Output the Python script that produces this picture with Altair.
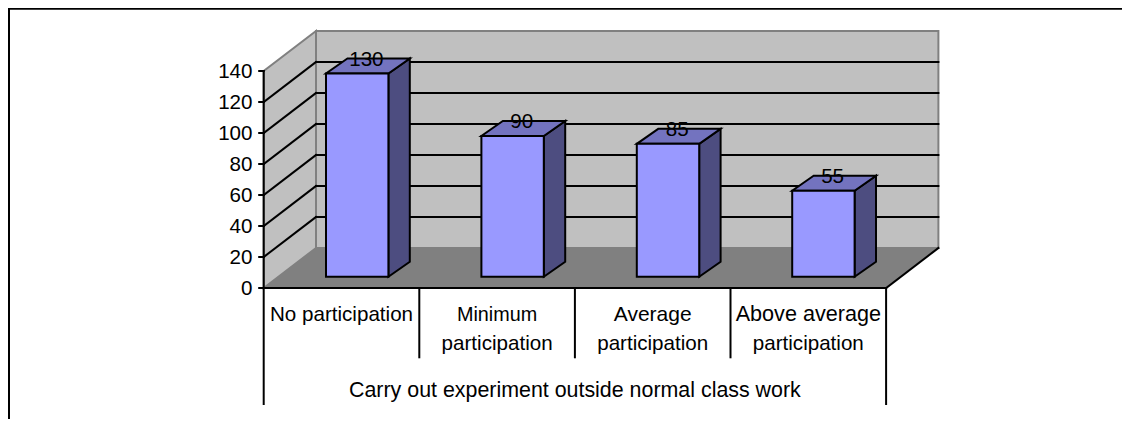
import altair as alt
import pandas as pd

# --- chart content
categories = ["No participation", "Minimum participation", "Average participation", "Above average participation"]
category_lines = [["No participation"], ["Minimum", "participation"], ["Average", "participation"], ["Above average", "participation"]]
values = [130, 90, 85, 55]
axis_ticks = [0, 20, 40, 60, 80, 100, 120, 140]
group_title = "Carry out experiment outside normal class work"

# --- colours
WALL, FLOOR, EDGE = "#C0C0C0", "#808080", "#808080"
FRONT, SIDE, TOP = "#9999FF", "#4D4D80", "#7373BF"
FONT = "Liberation Sans"
TEXT_SIZE = 20.6
LINE_SIZES = {"Minimum": 19.8, "Above average": 21.6, "Average": 21.0, group_title: 21.4}
LW = 2

# --- projection of the fake 3D box, in picture pixels
PAGE_L, PAGE_T, PAGE_R, PAGE_B = 8, 8, 1122, 419
AX_L, CAT_W, N = 263.7, 155.6, 4
AX_R = AX_L + CAT_W * N
AX_ZERO, AX_UNIT = 288.0, 1.55
DEPTH_X, DEPTH_Y = 52.3, 40.0
BAR_BASE, BAR_UNIT = 276.7, 1.563
BAR_L0, BAR_STEP, BAR_W = 326.0, 155.4, 62.4
BAR_DX, BAR_DY = 21.4, 15.0
LABEL_DX, LABEL_DY = -1.5, 15.0
AXIS_MAX = axis_ticks[-1]


def Y(p):
    """picture row -> units of the value scale used by the bars"""
    return (BAR_BASE - p) / BAR_UNIT


def ax_y(v):
    return Y(AX_ZERO - v * AX_UNIT)


def back_y(v):
    return Y(AX_ZERO - DEPTH_Y - v * AX_UNIT)


xs = alt.Scale(domain=[PAGE_L, PAGE_R], nice=False, zero=False)
ys = alt.Scale(domain=[Y(PAGE_B), Y(PAGE_T)], nice=False, zero=False)
X = alt.X("x:Q", scale=xs, axis=None)
X2 = alt.X2("x2:Q")
YY = alt.Y("y:Q", scale=ys, axis=None)
Y2 = alt.Y2("y2:Q")
D = alt.Detail("k:N")


def segs(rows, width=LW, color="black"):
    recs = []
    for i, (x1, y1, x2, y2) in enumerate(rows):
        recs += [{"k": i, "x": x1, "y": y1, "o": 0}, {"k": i, "x": x2, "y": y2, "o": 1}]
    return alt.Chart(pd.DataFrame(recs)).mark_line(color=color, strokeWidth=width, strokeCap="square").encode(
        x=X, y=YY, detail=D, order="o:Q")


def txt(rows, align="center"):
    df = pd.DataFrame(rows, columns=["x", "y", "t"])
    df["s"] = [LINE_SIZES.get(t, TEXT_SIZE) for t in df["t"]]
    return alt.Chart(df).mark_text(font=FONT, color="black", align=align, baseline="alphabetic").encode(
        x=X, y=YY, text="t:N", size=alt.Size("s:Q", scale=None, legend=None))


L, R = AX_L, AX_R
BL, BR = AX_L + DEPTH_X, AX_R + DEPTH_X

# walls and floor
back_wall = alt.Chart(pd.DataFrame([{"x": BL, "x2": BR, "y": back_y(0), "y2": back_y(AXIS_MAX)}])).mark_rect(
    color=WALL, stroke=EDGE, strokeWidth=LW).encode(x=X, x2=X2, y=YY, y2=Y2)
floor = alt.Chart(pd.DataFrame([
    {"y": ax_y(0), "x": L, "x2": R},
    {"y": back_y(0), "x": BL, "x2": BR},
])).mark_area(orient="horizontal", color=FLOOR).encode(x=X, x2=X2, y=YY)
side_wall = alt.Chart(pd.DataFrame([
    {"x": L, "y": ax_y(0), "y2": ax_y(AXIS_MAX)},
    {"x": BL, "y": back_y(0), "y2": back_y(AXIS_MAX)},
])).mark_area(color=WALL, stroke=EDGE, strokeWidth=LW).encode(x=X, y=YY, y2=Y2)

# gridlines
grid_back = segs([(BL, back_y(v), BR, back_y(v)) for v in axis_ticks[1:-1]])
grid_side = segs([(L, ax_y(v), BL, back_y(v)) for v in axis_ticks[1:-1]])
floor_right = segs([(R, ax_y(0), BR, back_y(0))])

# axes
axis_lines = segs(
    [(L, ax_y(0), L, ax_y(AXIS_MAX)), (L, ax_y(0), R, ax_y(0))]
    + [(L - 4.5, ax_y(v), L, ax_y(v)) for v in axis_ticks]
    + [(L + CAT_W * i, ax_y(0), L + CAT_W * i, Y(357.3)) for i in range(1, N)]
    + [(L, ax_y(0), L, Y(404)), (R, ax_y(0), R, Y(404))]
)
tick_labels = txt([(252.5, Y(AX_ZERO - v * AX_UNIT + 7), str(v)) for v in axis_ticks], align="right")

cat_rows = []
for i, lines in enumerate(category_lines):
    cx = L + CAT_W * (i + 0.5)
    for j, line in enumerate(lines):
        cat_rows.append((cx, Y(320.7 + 29.3 * j), line))
cat_labels = txt(cat_rows)
group_label = txt([((L + R) / 2, Y(396.7), group_title)])

# bars
dv = BAR_DY / BAR_UNIT
front_rows, side_rows, top_rows, label_rows = [], [], [], []
for i, v in enumerate(values):
    l = BAR_L0 + BAR_STEP * i
    r = l + BAR_W
    front_rows.append({"x": l, "x2": r, "y": 0, "y2": v})
    side_rows += [{"k": i, "x": r, "y": 0, "y2": v}, {"k": i, "x": r + BAR_DX, "y": dv, "y2": v + dv}]
    top_rows += [{"k": i, "y": v, "x": l, "x2": r}, {"k": i, "y": v + dv, "x": l + BAR_DX, "x2": r + BAR_DX}]
    label_rows.append(((l + r) / 2 + BAR_DX / 2 + LABEL_DX, v + (LABEL_DY - 7) / BAR_UNIT, str(v)))

bar_front = alt.Chart(pd.DataFrame(front_rows)).mark_rect(color=FRONT, stroke="black", strokeWidth=LW).encode(
    x=X, x2=X2, y=YY, y2=Y2)
bar_side = alt.Chart(pd.DataFrame(side_rows)).mark_area(color=SIDE, stroke="black", strokeWidth=LW).encode(
    x=X, y=YY, y2=Y2, detail=D)
bar_top = alt.Chart(pd.DataFrame(top_rows)).mark_area(orient="horizontal", color=TOP, stroke="black", strokeWidth=LW).encode(
    x=X, x2=X2, y=YY, detail=D)
bar_labels = txt(label_rows)

# chart frame: its top and left edge are all that shows in the picture
frame = segs([(9, Y(PAGE_B), 9, Y(8.8)), (9, Y(8.8), PAGE_R, Y(8.8))], width=2)

chart = alt.layer(
    back_wall, floor, side_wall, grid_back, grid_side, floor_right, axis_lines,
    tick_labels, cat_labels, group_label,
    bar_side, bar_top, bar_front, bar_labels, frame,
).properties(
    width=PAGE_R - PAGE_L, height=PAGE_B - PAGE_T, padding=0,
    autosize=alt.AutoSizeParams(type="none"),
).configure_view(stroke=None).configure(background="white")

chart.save("out.html", embed_options={"renderer": "svg", "actions": False})
